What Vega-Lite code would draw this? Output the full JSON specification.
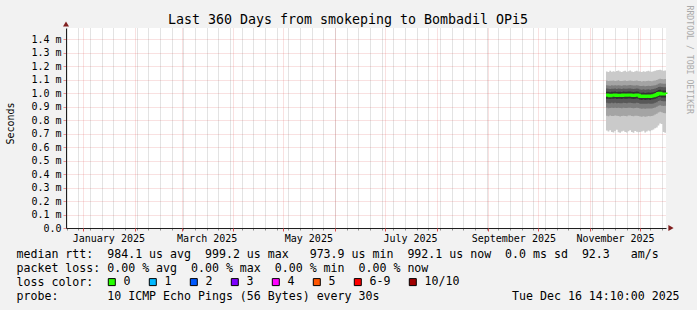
{
  "$schema": "https://vega.github.io/schema/vega-lite/v6.json",
  "width": 600,
  "height": 200,
  "autosize": {"type": "none"},
  "padding": {"left": 66, "top": 28, "right": 31, "bottom": 82},
  "background": "#f2f2f2",
  "config": {
    "view": {"fill": "white", "stroke": null},
    "font": "DejaVu Sans Mono",
    "axis": {"labelFont": "DejaVu Sans Mono", "titleFont": "DejaVu Sans Mono", "labelColor": "black", "titleColor": "black", "titleFontWeight": "normal", "labelFontSize": 10, "titleFontSize": 10, "zindex": 1}
  },
  "title": {"text": "Last 360 Days from smokeping to Bombadil OPi5", "font": "DejaVu Sans Mono", "fontSize": 13.3, "fontWeight": "normal", "color": "black", "anchor": "middle", "frame": "group", "offset": 5, "dx": -18, "dy": 37, "baseline": "alphabetic"},
  "datasets": {
    "smoke": [
      {"t": "2025-11-10T14:10:00Z", "loss": "0", "median": 0.985, "p1": 0.722, "p2": 0.832, "p3": 0.890, "p4": 0.927, "p5": 0.958, "p6": 1.010, "p7": 1.033, "p8": 1.058, "p9": 1.092, "p10": 1.160},
      {"t": "2025-11-11T14:10:00Z", "loss": "0", "median": 0.983, "p1": 0.715, "p2": 0.828, "p3": 0.887, "p4": 0.925, "p5": 0.957, "p6": 1.009, "p7": 1.031, "p8": 1.056, "p9": 1.089, "p10": 1.155},
      {"t": "2025-11-12T14:10:00Z", "loss": "0", "median": 0.980, "p1": 0.725, "p2": 0.834, "p3": 0.888, "p4": 0.924, "p5": 0.955, "p6": 1.006, "p7": 1.029, "p8": 1.054, "p9": 1.091, "p10": 1.165},
      {"t": "2025-11-13T14:10:00Z", "loss": "0", "median": 0.984, "p1": 0.712, "p2": 0.830, "p3": 0.891, "p4": 0.927, "p5": 0.958, "p6": 1.010, "p7": 1.032, "p8": 1.057, "p9": 1.090, "p10": 1.158},
      {"t": "2025-11-14T14:10:00Z", "loss": "0", "median": 0.983, "p1": 0.708, "p2": 0.829, "p3": 0.888, "p4": 0.925, "p5": 0.957, "p6": 1.009, "p7": 1.031, "p8": 1.056, "p9": 1.092, "p10": 1.162},
      {"t": "2025-11-15T14:10:00Z", "loss": "0", "median": 0.985, "p1": 0.718, "p2": 0.833, "p3": 0.890, "p4": 0.928, "p5": 0.959, "p6": 1.011, "p7": 1.033, "p8": 1.058, "p9": 1.088, "p10": 1.157},
      {"t": "2025-11-16T14:10:00Z", "loss": "0", "median": 0.982, "p1": 0.727, "p2": 0.831, "p3": 0.889, "p4": 0.924, "p5": 0.956, "p6": 1.008, "p7": 1.030, "p8": 1.055, "p9": 1.090, "p10": 1.163},
      {"t": "2025-11-17T14:10:00Z", "loss": "0", "median": 0.984, "p1": 0.710, "p2": 0.830, "p3": 0.890, "p4": 0.926, "p5": 0.958, "p6": 1.010, "p7": 1.033, "p8": 1.058, "p9": 1.094, "p10": 1.166},
      {"t": "2025-11-18T14:10:00Z", "loss": "0", "median": 0.983, "p1": 0.705, "p2": 0.826, "p3": 0.888, "p4": 0.925, "p5": 0.957, "p6": 1.009, "p7": 1.031, "p8": 1.056, "p9": 1.089, "p10": 1.160},
      {"t": "2025-11-19T14:10:00Z", "loss": "0", "median": 0.981, "p1": 0.715, "p2": 0.829, "p3": 0.887, "p4": 0.924, "p5": 0.955, "p6": 1.007, "p7": 1.029, "p8": 1.054, "p9": 1.088, "p10": 1.155},
      {"t": "2025-11-20T14:10:00Z", "loss": "0", "median": 0.985, "p1": 0.720, "p2": 0.832, "p3": 0.890, "p4": 0.927, "p5": 0.959, "p6": 1.011, "p7": 1.033, "p8": 1.058, "p9": 1.091, "p10": 1.161},
      {"t": "2025-11-21T14:10:00Z", "loss": "0", "median": 0.984, "p1": 0.712, "p2": 0.830, "p3": 0.889, "p4": 0.926, "p5": 0.958, "p6": 1.010, "p7": 1.032, "p8": 1.057, "p9": 1.092, "p10": 1.164},
      {"t": "2025-11-22T14:10:00Z", "loss": "0", "median": 0.983, "p1": 0.708, "p2": 0.828, "p3": 0.888, "p4": 0.925, "p5": 0.957, "p6": 1.009, "p7": 1.031, "p8": 1.056, "p9": 1.089, "p10": 1.158},
      {"t": "2025-11-23T14:10:00Z", "loss": "0", "median": 0.985, "p1": 0.716, "p2": 0.833, "p3": 0.890, "p4": 0.928, "p5": 0.959, "p6": 1.011, "p7": 1.033, "p8": 1.058, "p9": 1.090, "p10": 1.162},
      {"t": "2025-11-24T14:10:00Z", "loss": "0", "median": 0.986, "p1": 0.724, "p2": 0.834, "p3": 0.891, "p4": 0.928, "p5": 0.960, "p6": 1.012, "p7": 1.034, "p8": 1.059, "p9": 1.093, "p10": 1.167},
      {"t": "2025-11-25T14:10:00Z", "loss": "0", "median": 0.984, "p1": 0.711, "p2": 0.830, "p3": 0.889, "p4": 0.926, "p5": 0.958, "p6": 1.010, "p7": 1.032, "p8": 1.057, "p9": 1.090, "p10": 1.160},
      {"t": "2025-11-26T14:10:00Z", "loss": "0", "median": 0.982, "p1": 0.706, "p2": 0.827, "p3": 0.887, "p4": 0.924, "p5": 0.956, "p6": 1.008, "p7": 1.030, "p8": 1.055, "p9": 1.088, "p10": 1.156},
      {"t": "2025-11-27T14:10:00Z", "loss": "0", "median": 0.983, "p1": 0.719, "p2": 0.831, "p3": 0.889, "p4": 0.925, "p5": 0.957, "p6": 1.009, "p7": 1.031, "p8": 1.056, "p9": 1.091, "p10": 1.161},
      {"t": "2025-11-28T14:10:00Z", "loss": "0", "median": 0.985, "p1": 0.713, "p2": 0.832, "p3": 0.890, "p4": 0.927, "p5": 0.959, "p6": 1.011, "p7": 1.033, "p8": 1.058, "p9": 1.092, "p10": 1.165},
      {"t": "2025-11-29T14:10:00Z", "loss": "0", "median": 0.984, "p1": 0.709, "p2": 0.829, "p3": 0.888, "p4": 0.926, "p5": 0.958, "p6": 1.010, "p7": 1.032, "p8": 1.056, "p9": 1.089, "p10": 1.159},
      {"t": "2025-11-30T14:10:00Z", "loss": "0", "median": 0.976, "p1": 0.712, "p2": 0.826, "p3": 0.885, "p4": 0.921, "p5": 0.950, "p6": 1.002, "p7": 1.026, "p8": 1.052, "p9": 1.088, "p10": 1.160},
      {"t": "2025-12-01T14:10:00Z", "loss": "0", "median": 0.975, "p1": 0.715, "p2": 0.825, "p3": 0.884, "p4": 0.920, "p5": 0.949, "p6": 1.001, "p7": 1.025, "p8": 1.051, "p9": 1.086, "p10": 1.156},
      {"t": "2025-12-02T14:10:00Z", "loss": "0", "median": 0.977, "p1": 0.720, "p2": 0.828, "p3": 0.886, "p4": 0.921, "p5": 0.951, "p6": 1.003, "p7": 1.027, "p8": 1.053, "p9": 1.089, "p10": 1.162},
      {"t": "2025-12-03T14:10:00Z", "loss": "0", "median": 0.974, "p1": 0.708, "p2": 0.824, "p3": 0.884, "p4": 0.920, "p5": 0.948, "p6": 1.000, "p7": 1.024, "p8": 1.050, "p9": 1.087, "p10": 1.158},
      {"t": "2025-12-04T14:10:00Z", "loss": "0", "median": 0.976, "p1": 0.714, "p2": 0.826, "p3": 0.885, "p4": 0.921, "p5": 0.950, "p6": 1.002, "p7": 1.026, "p8": 1.052, "p9": 1.088, "p10": 1.161},
      {"t": "2025-12-05T14:10:00Z", "loss": "0", "median": 0.978, "p1": 0.722, "p2": 0.829, "p3": 0.886, "p4": 0.922, "p5": 0.952, "p6": 1.004, "p7": 1.028, "p8": 1.054, "p9": 1.090, "p10": 1.164},
      {"t": "2025-12-06T14:10:00Z", "loss": "0", "median": 0.975, "p1": 0.717, "p2": 0.827, "p3": 0.885, "p4": 0.920, "p5": 0.949, "p6": 1.001, "p7": 1.025, "p8": 1.051, "p9": 1.088, "p10": 1.159},
      {"t": "2025-12-07T14:10:00Z", "loss": "0", "median": 0.977, "p1": 0.724, "p2": 0.830, "p3": 0.886, "p4": 0.921, "p5": 0.951, "p6": 1.003, "p7": 1.027, "p8": 1.053, "p9": 1.087, "p10": 1.157},
      {"t": "2025-12-08T14:10:00Z", "loss": "0", "median": 0.979, "p1": 0.730, "p2": 0.834, "p3": 0.888, "p4": 0.923, "p5": 0.953, "p6": 1.005, "p7": 1.029, "p8": 1.055, "p9": 1.090, "p10": 1.162},
      {"t": "2025-12-09T14:10:00Z", "loss": "0", "median": 0.983, "p1": 0.738, "p2": 0.840, "p3": 0.892, "p4": 0.927, "p5": 0.957, "p6": 1.009, "p7": 1.033, "p8": 1.058, "p9": 1.093, "p10": 1.165},
      {"t": "2025-12-10T14:10:00Z", "loss": "0", "median": 0.988, "p1": 0.745, "p2": 0.846, "p3": 0.898, "p4": 0.932, "p5": 0.962, "p6": 1.014, "p7": 1.037, "p8": 1.062, "p9": 1.097, "p10": 1.168},
      {"t": "2025-12-11T14:10:00Z", "loss": "0", "median": 0.996, "p1": 0.760, "p2": 0.855, "p3": 0.906, "p4": 0.940, "p5": 0.970, "p6": 1.022, "p7": 1.044, "p8": 1.068, "p9": 1.102, "p10": 1.170},
      {"t": "2025-12-12T14:10:00Z", "loss": "0", "median": 0.999, "p1": 0.775, "p2": 0.862, "p3": 0.910, "p4": 0.944, "p5": 0.973, "p6": 1.025, "p7": 1.047, "p8": 1.072, "p9": 1.106, "p10": 1.172},
      {"t": "2025-12-13T14:10:00Z", "loss": "0", "median": 0.992, "p1": 0.770, "p2": 0.858, "p3": 0.906, "p4": 0.940, "p5": 0.966, "p6": 1.018, "p7": 1.044, "p8": 1.070, "p9": 1.104, "p10": 1.168},
      {"t": "2025-12-14T14:10:00Z", "loss": "0", "median": 0.992, "p1": 0.712, "p2": 0.852, "p3": 0.904, "p4": 0.938, "p5": 0.966, "p6": 1.018, "p7": 1.043, "p8": 1.069, "p9": 1.102, "p10": 1.165},
      {"t": "2025-12-15T14:10:00Z", "loss": "0", "median": 0.993, "p1": 0.705, "p2": 0.850, "p3": 0.905, "p4": 0.939, "p5": 0.967, "p6": 1.019, "p7": 1.043, "p8": 1.069, "p9": 1.103, "p10": 1.167},
      {"t": "2025-12-16T14:10:00Z", "loss": "0", "median": 0.992, "p1": 0.708, "p2": 0.851, "p3": 0.904, "p4": 0.938, "p5": 0.966, "p6": 1.018, "p7": 1.043, "p8": 1.068, "p9": 1.102, "p10": 1.166}
    ]
  },
  "data": {"name": "smoke"},
  "resolve": {"axis": {"x": "independent", "y": "independent"}},
  "layer": [
    {
      "mark": {"type": "area", "color": "#cacaca", "opacity": 1, "interpolate": "step-after"},
      "encoding": {
        "x": {"field": "t", "type": "temporal",
          "scale": {"type": "utc", "domain": [{"year": 2024, "month": 12, "date": 21, "hours": 14, "minutes": 10, "utc": true}, {"year": 2025, "month": 12, "date": 16, "hours": 14, "minutes": 10, "utc": true}]},
          "axis": {"orient": "bottom", "tickCount": {"interval": "week", "step": 1}, "grid": true, "gridColor": "#8f8f8f", "gridOpacity": 0.5, "gridDash": [1, 1], "labels": false, "ticks": true, "tickSize": 2, "tickColor": "#8f8f8f", "domain": true, "domainColor": "#1f1f1f", "title": null}},
        "y": {"field": "p1", "type": "quantitative",
          "scale": {"domain": [0, 1.4815], "nice": false, "zero": true},
          "axis": {"orient": "left", "values": [0, 0.1, 0.2, 0.3, 0.4, 0.5, 0.6, 0.7, 0.8, 0.9, 1.0, 1.1, 1.2, 1.3, 1.4],
            "labelExpr": "datum.value === 0 ? '0.0\u00a0\u00a0' : format(datum.value, '.1f') + ' m'",
            "grid": true, "gridColor": "#de4f4f", "gridOpacity": 0.35, "gridDash": [1, 1],
            "ticks": true, "tickSize": 3, "tickColor": "#de4f4f", "tickOpacity": 0.6, "labelPadding": 2, "labelOverlap": false, "labelBound": false, "labelFlush": false,
            "domain": true, "domainColor": "#1f1f1f",
            "title": "Seconds", "titleX": -56, "titleY": 95, "titleAngle": 270, "titleAlign": "center", "titleBaseline": "middle", "titleFontSize": 10}},
        "y2": {"field": "p10"}
      }
    },
    {
      "mark": {"type": "area", "color": "#a4a4a4", "opacity": 1, "interpolate": "step-after"},
      "encoding": {
        "x": {"field": "t", "type": "temporal",
          "axis": {"orient": "bottom", "tickCount": {"interval": "month", "step": 1}, "grid": true, "gridColor": "#de4f4f", "gridOpacity": 0.35, "gridDash": [1, 1], "labels": false, "ticks": true, "tickSize": 3, "tickColor": "#de4f4f", "domain": false, "title": null}},
        "y": {"field": "p2", "type": "quantitative", "axis": null},
        "y2": {"field": "p9"}
      }
    },
    {
      "mark": {"type": "area", "color": "#7e7e7e", "opacity": 1, "interpolate": "step-after"},
      "encoding": {
        "x": {"field": "t", "type": "temporal",
          "axis": {"orient": "bottom", "tickCount": {"interval": "month", "step": 2}, "format": "%B %Y", "grid": false, "ticks": false, "domain": false,
            "labelOffset": 25, "labelPadding": 5, "labelFontSize": 10, "labelOverlap": false, "labelBound": false, "labelFlush": false,
            "title": ["median rtt:\u00a0\u00a0984.1\u00a0us\u00a0avg\u00a0\u00a0999.2\u00a0us\u00a0max\u00a0\u00a0\u00a0973.9\u00a0us\u00a0min\u00a0\u00a0992.1\u00a0us\u00a0now\u00a0\u00a00.0\u00a0ms\u00a0sd\u00a0\u00a092.3\u00a0\u00a0\u00a0am/s",
                      "packet loss:\u00a00.00\u00a0%\u00a0avg\u00a0\u00a00.00\u00a0%\u00a0max\u00a0\u00a00.00\u00a0%\u00a0min\u00a0\u00a00.00\u00a0%\u00a0now",
                      "loss color:",
                      "probe:\u00a0\u00a0\u00a0\u00a0\u00a0\u00a0\u00a010\u00a0ICMP\u00a0Echo\u00a0Pings\u00a0(56\u00a0Bytes)\u00a0every\u00a030s\u00a0\u00a0\u00a0\u00a0\u00a0\u00a0\u00a0\u00a0\u00a0\u00a0\u00a0\u00a0\u00a0\u00a0\u00a0\u00a0\u00a0\u00a0\u00a0Tue\u00a0Dec\u00a016\u00a014:10:00\u00a02025"],
            "titleX": -50, "titleY": 29, "titleAlign": "left", "titleAnchor": "start", "titleBaseline": "alphabetic", "titleFontSize": 11.6, "titleLineHeight": 14, "titleLimit": 2000}},
        "y": {"field": "p3", "type": "quantitative",
          "axis": {"orient": "right", "labels": false, "ticks": false, "domain": false, "grid": false,
            "title": "RRDTOOL / TOBI OETIKER", "titleAngle": 90, "titleX": 22, "titleY": -23, "titleAlign": "left", "titleBaseline": "middle", "titleColor": "#aaaaaa", "titleFontSize": 8.2}},
        "y2": {"field": "p8"}
      }
    },
    {
      "mark": {"type": "area", "color": "#585858", "opacity": 1, "interpolate": "step-after"},
      "encoding": {
        "x": {"field": "t", "type": "temporal", "axis": null},
        "y": {"field": "p4", "type": "quantitative", "axis": null},
        "y2": {"field": "p7"}
      }
    },
    {
      "mark": {"type": "area", "color": "#323232", "opacity": 1, "interpolate": "step-after"},
      "encoding": {
        "x": {"field": "t", "type": "temporal", "axis": null},
        "y": {"field": "p5", "type": "quantitative", "axis": null},
        "y2": {"field": "p6"}
      }
    },
    {
      "mark": {"type": "line", "strokeWidth": 3, "interpolate": "step-after"},
      "encoding": {
        "x": {"field": "t", "type": "temporal", "axis": null},
        "y": {"field": "median", "type": "quantitative", "axis": null},
        "color": {"field": "loss", "type": "nominal", "scale": {"range": ["#26ff00"]}, "legend": null}
      }
    },
    {
      "mark": {"type": "point", "shape": "square", "filled": true, "opacity": 0, "size": 4},
      "encoding": {
        "x": {"field": "t", "type": "temporal", "axis": null},
        "y": {"field": "median", "type": "quantitative", "axis": null},
        "fill": {"field": "loss", "type": "nominal",
          "scale": {"domain": ["0", "1", "2", "3", "4", "5", "6-9", "10/10"], "range": ["#26ff00", "#00b8ff", "#0059ff", "#7e00ff", "#ff00ff", "#ff5500", "#ff0000", "#a10000"]},
          "legend": {"orient": "none", "legendX": 40, "legendY": 248, "direction": "horizontal", "title": null, "padding": 0,
            "symbolType": "square", "symbolSize": 49, "symbolStrokeWidth": 1, "symbolStrokeColor": "black", "symbolOpacity": 1,
            "labelFont": "DejaVu Sans Mono", "labelFontSize": 11.6, "labelColor": "black", "labelOffset": 6, "columnPadding": 16}}
      }
    },
    {
      "data": {"values": [{}]},
      "mark": {"type": "point", "shape": "triangle-up", "filled": true, "color": "#801f1f", "size": 36, "opacity": 1},
      "encoding": {
        "x": {"datum": {"year": 2024, "month": 12, "date": 21, "hours": 14, "minutes": 10, "utc": true}, "type": "temporal", "axis": null},
        "y": {"datum": 1.511, "type": "quantitative", "axis": null}
      }
    },
    {
      "data": {"values": [{}]},
      "mark": {"type": "point", "shape": "triangle-right", "filled": true, "color": "#801f1f", "size": 36, "opacity": 1},
      "encoding": {
        "x": {"datum": {"year": 2025, "month": 12, "date": 19, "hours": 14, "minutes": 10, "utc": true}, "type": "temporal", "axis": null},
        "y": {"datum": 0, "type": "quantitative", "axis": null}
      }
    }
  ]
}
